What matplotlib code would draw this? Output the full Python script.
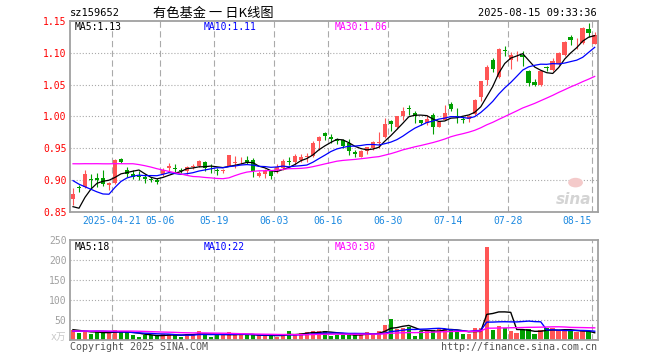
import numpy as np
import pandas as pd
import matplotlib
matplotlib.use("Agg")
import matplotlib.pyplot as plt
from matplotlib.patches import Ellipse

plt.rcParams['font.family'] = ['DejaVu Sans Mono']
plt.rcParams['lines.scale_dashes'] = False

# --- data ---
# candles 2025-04-10 .. 2025-08-15
opens = [0.871, 0.890, 0.889, 0.902, 0.903, 0.904, 0.892, 0.896, 0.934, 0.917,
         0.910, 0.907, 0.905, 0.902, 0.900, 0.910, 0.920, 0.920, 0.917, 0.914,
         0.921, 0.923, 0.929, 0.920, 0.916, 0.914, 0.923, 0.927, 0.928, 0.932,
         0.932, 0.907, 0.910, 0.914, 0.917, 0.919, 0.931, 0.928, 0.932, 0.937,
         0.938, 0.961, 0.974, 0.968, 0.964, 0.963, 0.959, 0.945, 0.937, 0.946,
         0.950, 0.959, 0.968, 0.993, 0.983, 1.000, 1.013, 1.006, 0.994, 0.990,
         1.003, 0.984, 0.995, 1.019, 1.001, 0.996, 0.996, 1.004, 1.031, 1.057,
         1.089, 1.062, 1.104, 1.088, 1.094, 1.096, 1.071, 1.054, 1.050, 1.077,
         1.073, 1.082, 1.097, 1.124, 1.116, 1.115, 1.137, 1.114]
highs = [0.888, 0.892, 0.916, 0.910, 0.911, 0.916, 0.897, 0.934, 0.935, 0.921,
         0.917, 0.915, 0.910, 0.906, 0.903, 0.920, 0.927, 0.925, 0.920, 0.922,
         0.925, 0.932, 0.930, 0.925, 0.919, 0.918, 0.940, 0.938, 0.936, 0.938,
         0.935, 0.914, 0.918, 0.915, 0.925, 0.933, 0.936, 0.941, 0.941, 0.943,
         0.961, 0.969, 0.976, 0.972, 0.967, 0.964, 0.964, 0.948, 0.947, 0.953,
         0.962, 0.975, 0.997, 0.994, 1.001, 1.015, 1.018, 1.008, 0.995, 1.002,
         1.005, 0.992, 1.018, 1.023, 1.013, 1.000, 1.003, 1.027, 1.056, 1.081,
         1.091, 1.107, 1.110, 1.101, 1.102, 1.102, 1.073, 1.058, 1.073, 1.079,
         1.091, 1.101, 1.118, 1.127, 1.123, 1.140, 1.146, 1.132]
lows = [0.862, 0.882, 0.888, 0.888, 0.889, 0.891, 0.885, 0.895, 0.927, 0.906,
        0.902, 0.900, 0.896, 0.897, 0.895, 0.907, 0.913, 0.912, 0.911, 0.910,
        0.918, 0.921, 0.914, 0.912, 0.908, 0.911, 0.922, 0.920, 0.925, 0.925,
        0.906, 0.906, 0.903, 0.902, 0.912, 0.916, 0.924, 0.924, 0.928, 0.929,
        0.937, 0.947, 0.963, 0.958, 0.957, 0.950, 0.940, 0.937, 0.936, 0.941,
        0.948, 0.950, 0.966, 0.977, 0.981, 0.995, 1.002, 0.990, 0.986, 0.987,
        0.973, 0.983, 0.994, 1.008, 0.990, 0.990, 0.992, 1.003, 1.025, 1.050,
        1.070, 1.060, 1.094, 1.074, 1.087, 1.079, 1.048, 1.047, 1.048, 1.071,
        1.071, 1.080, 1.095, 1.112, 1.105, 1.113, 1.125, 1.113]
closes = [0.879, 0.888, 0.910, 0.900, 0.900, 0.895, 0.896, 0.932, 0.928, 0.910,
          0.906, 0.905, 0.902, 0.901, 0.898, 0.917, 0.922, 0.918, 0.914, 0.921,
          0.922, 0.931, 0.919, 0.919, 0.915, 0.916, 0.940, 0.928, 0.929, 0.928,
          0.914, 0.912, 0.915, 0.907, 0.921, 0.930, 0.928, 0.938, 0.937, 0.938,
          0.958, 0.968, 0.969, 0.964, 0.962, 0.954, 0.946, 0.941, 0.946, 0.952,
          0.960, 0.960, 0.989, 0.989, 1.000, 1.009, 1.011, 1.001, 0.990, 0.996,
          0.983, 0.991, 1.005, 1.012, 0.999, 0.995, 1.001, 1.026, 1.055, 1.078,
          1.075, 1.105, 1.102, 1.097, 1.095, 1.093, 1.052, 1.050, 1.072, 1.076,
          1.087, 1.099, 1.116, 1.120, 1.117, 1.138, 1.130, 1.128]
# volume, 万
volumes = [25, 18, 21, 16, 20, 17.5, 18, 26, 19, 19,
           13, 8.5, 13, 11.5, 9, 14, 14, 14, 8.5, 16,
           14, 23, 14, 8.5, 11.5, 12.5, 20, 14, 11.5, 11.5,
           11.5, 11.5, 12.5, 11, 8.5, 14, 22.5, 11.5, 16.5, 20,
           22.5, 22.5, 22.5, 11, 12.5, 12.5, 12.5, 12.5, 14, 20,
           14, 22.5, 37.5, 52.5, 28, 31, 33, 10, 22, 24.5,
           24.5, 29, 27, 27, 19, 14.5, 16, 29, 29, 232,
           25.5, 35.5, 29.5, 23, 18, 24.5, 27, 16, 24, 29,
           29, 25, 22, 24, 19, 23, 22, 2.5]
# sessions before the window, only feed the moving averages
pre_closes = [0.890, 0.905, 0.902, 0.898, 0.900, 0.897, 0.925, 0.930, 0.912, 0.905,
              0.945, 0.955, 0.965, 0.975, 0.980, 0.985, 0.980, 0.975, 0.985, 0.975,
              0.944, 0.950, 0.940, 0.940, 0.928, 0.900, 0.825, 0.835, 0.855]
pre_volumes = [20, 22, 18, 19, 21, 17, 23, 20, 19, 16,
               20, 25, 28, 26, 30, 24, 27, 29, 26, 26,
               18, 17, 20, 16, 19, 27, 30, 25, 22]

tick_idx = [7, 15, 24, 34, 43, 53, 63, 73, 87]
tick_labels = ['2025-04-21', '05-06', '05-19', '06-03', '06-16',
               '06-30', '07-14', '07-28', '08-15']
price_ticks = [0.85, 0.90, 0.95, 1.00, 1.05, 1.10, 1.15]
vol_ticks = [50, 100, 150, 200, 250]

RED = '#ff5555'
GREEN = '#009f00'
GRID = '#aaaaaa'
MA_COLORS = {5: 'black', 10: '#0000ff', 30: '#ff00ff'}

n = len(closes)
x = np.arange(n)
o = np.array(opens); c = np.array(closes)
colors = [RED if c[i] >= o[i] else GREEN for i in range(n)]

full_c = pd.Series(pre_closes + closes)
full_v = pd.Series(pre_volumes + volumes)
npre = len(pre_closes)
ma_price = {k: full_c.rolling(k).mean().values[npre:] for k in (5, 10, 30)}
ma_vol = {k: full_v.rolling(k).mean().values[npre:] for k in (5, 10, 30)}

# --- figure ---
W, H = 660, 360
fig = plt.figure(figsize=(W / 100, H / 100), dpi=100, facecolor='white')


def rect(x0, y0, x1, y1):
    return [x0 / W, 1 - y1 / H, (x1 - x0) / W, (y1 - y0) / H]


ax = fig.add_axes(rect(70, 20.7, 597.7, 212.3))
axv = fig.add_axes(rect(70, 240, 597.7, 340))

for a in (ax, axv):
    a.set_xlim(-0.5, n - 0.5)
    for s in a.spines.values():
        s.set_color('#a0a0a0')
        s.set_linewidth(1.3)
    for t in tick_idx:
        a.axvline(t - 0.5, color=GRID, lw=0.8, dashes=(4.5, 2.5), zorder=0)

# price panel
ax.set_ylim(0.85, 1.15)
for yv in price_ticks[1:-1]:
    ax.axhline(yv, color=GRID, lw=0.8, dashes=(0.8, 1.4), zorder=0)
ax.vlines(x, lows, highs, colors=colors, lw=0.8, zorder=2)
body_h = np.maximum(np.abs(c - o), 0.0009)
ax.bar(x, body_h, bottom=np.minimum(o, c), width=0.75, color=colors,
       linewidth=0, zorder=3)
for k in (5, 10, 30):
    ax.plot(x, ma_price[k], color=MA_COLORS[k], lw=0.9, zorder=4)

ax.set_yticks(price_ticks)
ax.set_yticklabels(['%.2f' % v for v in price_ticks], color='#ff0000')
ax.set_xticks([t - 0.5 for t in tick_idx])
ax.set_xticklabels(tick_labels, color='#1a88e0')
ax.get_xticklabels()[-1].set_ha('right')
ax.tick_params(length=0, pad=2.5, labelsize=7)

# sina watermark
ax.add_patch(Ellipse((0.958, 0.155), 0.028, 0.05, transform=ax.transAxes,
                     facecolor='#f4caca', edgecolor='none', zorder=1))
ax.text(0.955, 0.065, 'sina', transform=ax.transAxes, ha='center',
        va='center', fontsize=11, color='#d4d4d4', fontweight='bold',
        style='italic', family=['DejaVu Sans'], zorder=1)

# volume panel
axv.set_ylim(0, 250)
for yv in vol_ticks[:-1]:
    axv.axhline(yv, color=GRID, lw=0.8, dashes=(0.8, 1.4), zorder=0)
axv.bar(x, volumes, width=0.75, color=colors, linewidth=0, zorder=2)
for k in (5, 10, 30):
    axv.plot(x, ma_vol[k], color=MA_COLORS[k], lw=1.0, zorder=4)
axv.set_yticks(vol_ticks)
axv.set_yticklabels([str(v) for v in vol_ticks], color='#a0a0a0')
axv.set_xticks([])
axv.tick_params(length=0, pad=2.5, labelsize=7)


def ftext(px_x, px_y, s, **kw):
    fig.text(px_x / W, 1 - px_y / H, s, va='center', **kw)


# header
ftext(70, 13, 'sz159652', fontsize=7.5, color='black')
ftext(213, 13, '有色基金 一 日K线图', ha='center', fontsize=9.5, color='black',
      family=['Noto Sans CJK SC', 'DejaVu Sans'])
ftext(597, 13, '2025-08-15 09:33:36', ha='right', fontsize=7.5, color='black')

# MA labels
ftext(75, 26.5, 'MA5:%.2f' % ma_price[5][-1], fontsize=7, color=MA_COLORS[5])
ftext(204, 26.5, 'MA10:%.2f' % ma_price[10][-1], fontsize=7, color=MA_COLORS[10])
ftext(335, 26.5, 'MA30:%.2f' % ma_price[30][-1], fontsize=7, color=MA_COLORS[30])
ftext(75, 246.5, 'MA5:%.0f' % ma_vol[5][-1], fontsize=7, color=MA_COLORS[5])
ftext(204, 246.5, 'MA10:%.0f' % ma_vol[10][-1], fontsize=7, color=MA_COLORS[10])
ftext(335, 246.5, 'MA30:%.0f' % ma_vol[30][-1], fontsize=7, color=MA_COLORS[30])

# footer
ftext(66, 337, 'x万', ha='right', fontsize=7, color='#c8c8c8',
      family=['DejaVu Sans Mono', 'Noto Sans CJK SC'])
ftext(70, 347.5, 'Copyright 2025 SINA.COM', fontsize=7.2, color='#555555')
ftext(597, 347.5, 'http://finance.sina.com.cn', ha='right', fontsize=7.2,
      color='#555555')

fig.savefig('out.png', dpi=100)
